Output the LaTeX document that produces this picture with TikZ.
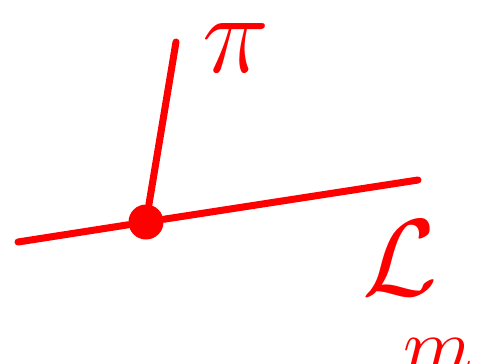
\documentclass[tikz,border=0pt]{standalone}
\usepackage{amsmath}
\usepackage{tikz}
\usetikzlibrary{positioning}

\begin{document}
\begin{tikzpicture}[x=0.02cm,y=-0.02cm,
  stroke/.style={draw=red,line width=4pt,line cap=round},
  pt/.style={circle,fill=red,inner sep=0pt,minimum size=0.7cm},
  lbl/.style={text=red,inner sep=0pt,font=\Huge,transform shape}]
\useasboundingbox (0,0) rectangle (481,363);
\coordinate (lft) at (18,242);
\coordinate (rgt) at (418,180);
\coordinate (top) at (176,42);
\node[pt] (base) at (146,222) {};
\draw[stroke] (lft) -- (base) -- (rgt);
\draw[stroke] (base) -- (top);
\node[lbl,scale=2.6] (pi) at (236,48) {$\pi$};
\node[lbl,scale=2.5] (lag) at (400,258) {$\mathcal{L}$};
\node[lbl,scale=1.85] (mass) at (438,356) {$m$};
\end{tikzpicture}
\end{document}
